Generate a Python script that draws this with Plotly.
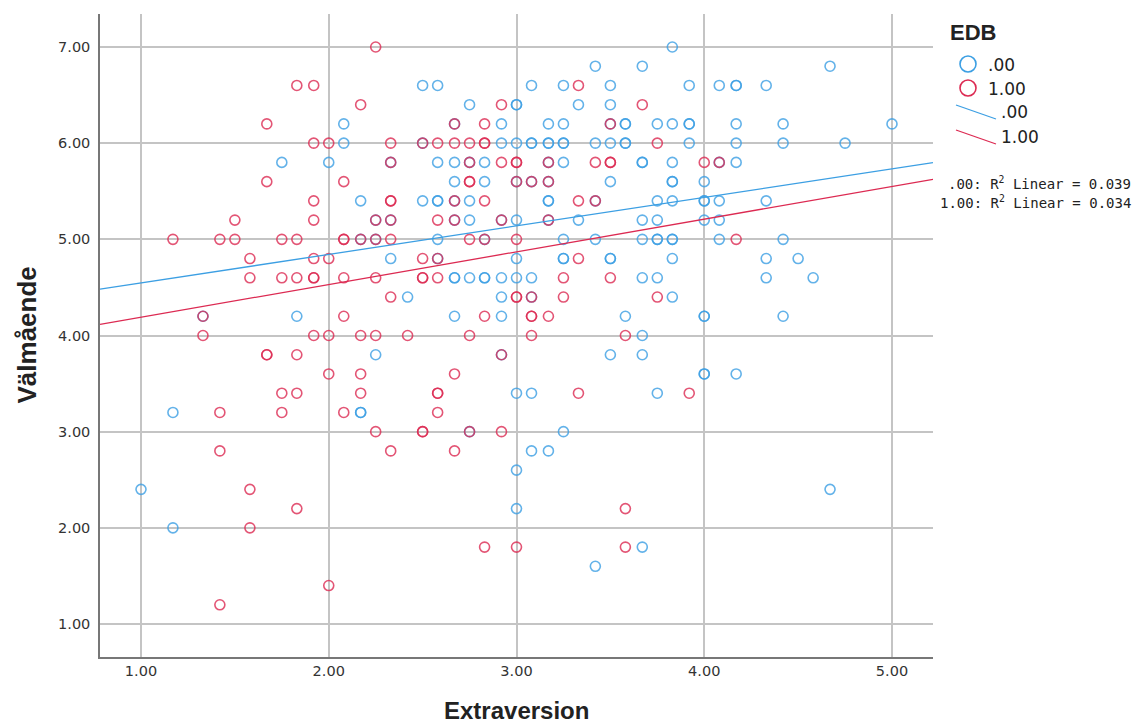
import plotly.graph_objects as go

# ---------------- data ----------------
# EDB = .00 (blue)
blue_x = [3.83,
          3.42, 3.67, 4.67,
          2.50, 2.58, 3.08, 3.25, 3.50, 3.92, 4.08, 4.17, 4.17, 4.33,
          2.75, 3.00, 3.00, 3.33, 3.50,
          2.08, 2.67, 2.92, 3.17, 3.25, 3.50, 3.58, 3.58, 3.75, 3.83, 3.92, 3.92, 4.17, 4.42, 5.00,
          2.08, 2.50, 2.92, 3.00, 3.08, 3.08, 3.17, 3.17, 3.25, 3.25, 3.42, 3.50, 3.58, 3.58, 3.92, 4.17, 4.42, 4.75,
          1.75, 2.00, 2.33, 2.58, 2.67, 2.75, 2.83, 3.17, 3.25, 3.67, 3.67, 3.83, 4.08, 4.17,
          2.67, 2.83, 3.00, 3.08, 3.17, 3.50, 3.83, 3.83, 4.00,
          2.17, 2.50, 2.58, 2.58, 2.67, 2.75, 3.17, 3.17, 3.42, 3.75, 3.83, 4.00, 4.00, 4.08, 4.33,
          2.25, 2.33, 2.67, 2.75, 2.92, 3.00, 3.17, 3.33, 3.67, 3.75, 4.00, 4.08,
          2.17, 2.25, 2.58, 2.83, 3.25, 3.42, 3.67, 3.75, 3.75, 3.83, 3.83, 4.08, 4.42,
          2.33, 2.58, 3.00, 3.25, 3.25, 3.50, 3.50, 3.83, 4.33, 4.50,
          2.67, 2.67, 2.75, 2.83, 2.83, 2.92, 3.00, 3.08, 3.67, 3.75, 4.33, 4.58,
          2.42, 2.92, 3.08, 3.83,
          1.33, 1.83, 2.67, 2.92, 3.58, 4.00, 4.00, 4.42,
          3.67,
          2.25, 2.92, 3.50, 3.67,
          4.00, 4.00, 4.17,
          3.00, 3.08, 3.75,
          1.17, 2.17, 2.17,
          2.75, 3.25,
          3.08, 3.17,
          3.00,
          1.00, 4.67,
          3.00,
          1.17,
          3.67,
          3.42]
blue_y = [7.0,
          6.8, 6.8, 6.8,
          6.6, 6.6, 6.6, 6.6, 6.6, 6.6, 6.6, 6.6, 6.6, 6.6,
          6.4, 6.4, 6.4, 6.4, 6.4,
          6.2, 6.2, 6.2, 6.2, 6.2, 6.2, 6.2, 6.2, 6.2, 6.2, 6.2, 6.2, 6.2, 6.2, 6.2,
          6.0, 6.0, 6.0, 6.0, 6.0, 6.0, 6.0, 6.0, 6.0, 6.0, 6.0, 6.0, 6.0, 6.0, 6.0, 6.0, 6.0, 6.0,
          5.8, 5.8, 5.8, 5.8, 5.8, 5.8, 5.8, 5.8, 5.8, 5.8, 5.8, 5.8, 5.8, 5.8,
          5.6, 5.6, 5.6, 5.6, 5.6, 5.6, 5.6, 5.6, 5.6,
          5.4, 5.4, 5.4, 5.4, 5.4, 5.4, 5.4, 5.4, 5.4, 5.4, 5.4, 5.4, 5.4, 5.4, 5.4,
          5.2, 5.2, 5.2, 5.2, 5.2, 5.2, 5.2, 5.2, 5.2, 5.2, 5.2, 5.2,
          5.0, 5.0, 5.0, 5.0, 5.0, 5.0, 5.0, 5.0, 5.0, 5.0, 5.0, 5.0, 5.0,
          4.8, 4.8, 4.8, 4.8, 4.8, 4.8, 4.8, 4.8, 4.8, 4.8,
          4.6, 4.6, 4.6, 4.6, 4.6, 4.6, 4.6, 4.6, 4.6, 4.6, 4.6, 4.6,
          4.4, 4.4, 4.4, 4.4,
          4.2, 4.2, 4.2, 4.2, 4.2, 4.2, 4.2, 4.2,
          4.0,
          3.8, 3.8, 3.8, 3.8,
          3.6, 3.6, 3.6,
          3.4, 3.4, 3.4,
          3.2, 3.2, 3.2,
          3.0, 3.0,
          2.8, 2.8,
          2.6,
          2.4, 2.4,
          2.2,
          2.0,
          1.8,
          1.6]

# EDB = 1.00 (red)
red_x = [2.25,
         1.83, 1.92, 3.33,
         2.17, 2.92, 3.67,
         1.67, 2.67, 2.83, 3.50,
         1.92, 2.00, 2.33, 2.50, 2.58, 2.67, 2.75, 2.83, 2.83, 3.75,
         2.33, 2.75, 2.92, 3.00, 3.00, 3.17, 3.42, 3.50, 3.50, 4.00, 4.08,
         1.67, 2.08, 2.75, 2.75, 3.00, 3.08, 3.17,
         1.92, 2.33, 2.33, 2.67, 2.83, 3.33, 3.42,
         1.50, 1.92, 2.25, 2.33, 2.58, 2.67, 2.92, 3.17,
         1.17, 1.42, 1.50, 1.75, 1.83, 2.08, 2.08, 2.17, 2.25, 2.33, 2.75, 2.83, 3.00, 4.17,
         1.58, 1.92, 2.00, 2.50, 2.58, 3.33,
         1.58, 1.75, 1.83, 1.92, 1.92, 2.08, 2.25, 2.50, 2.50, 2.58, 3.25, 3.50,
         2.33, 3.00, 3.00, 3.08, 3.25, 3.75,
         1.33, 2.08, 2.83, 3.08, 3.08, 3.17,
         1.33, 1.92, 2.00, 2.17, 2.25, 2.42, 2.75, 3.08, 3.58,
         1.67, 1.67, 1.83, 2.92,
         2.00, 2.17, 2.67,
         1.75, 1.83, 2.17, 2.58, 2.58, 3.33, 3.92,
         1.42, 1.75, 2.08, 2.58,
         2.25, 2.50, 2.50, 2.75, 2.92,
         1.42, 2.33, 2.67,
         1.58,
         1.83, 3.58,
         1.58,
         2.83, 3.00, 3.58,
         2.00,
         1.42]
red_y = [7.0,
         6.6, 6.6, 6.6,
         6.4, 6.4, 6.4,
         6.2, 6.2, 6.2, 6.2,
         6.0, 6.0, 6.0, 6.0, 6.0, 6.0, 6.0, 6.0, 6.0, 6.0,
         5.8, 5.8, 5.8, 5.8, 5.8, 5.8, 5.8, 5.8, 5.8, 5.8, 5.8,
         5.6, 5.6, 5.6, 5.6, 5.6, 5.6, 5.6,
         5.4, 5.4, 5.4, 5.4, 5.4, 5.4, 5.4,
         5.2, 5.2, 5.2, 5.2, 5.2, 5.2, 5.2, 5.2,
         5.0, 5.0, 5.0, 5.0, 5.0, 5.0, 5.0, 5.0, 5.0, 5.0, 5.0, 5.0, 5.0, 5.0,
         4.8, 4.8, 4.8, 4.8, 4.8, 4.8,
         4.6, 4.6, 4.6, 4.6, 4.6, 4.6, 4.6, 4.6, 4.6, 4.6, 4.6, 4.6,
         4.4, 4.4, 4.4, 4.4, 4.4, 4.4,
         4.2, 4.2, 4.2, 4.2, 4.2, 4.2,
         4.0, 4.0, 4.0, 4.0, 4.0, 4.0, 4.0, 4.0, 4.0,
         3.8, 3.8, 3.8, 3.8,
         3.6, 3.6, 3.6,
         3.4, 3.4, 3.4, 3.4, 3.4, 3.4, 3.4,
         3.2, 3.2, 3.2, 3.2,
         3.0, 3.0, 3.0, 3.0, 3.0,
         2.8, 2.8, 2.8,
         2.4,
         2.2, 2.2,
         2.0,
         1.8, 1.8, 1.8,
         1.4,
         1.2]

# fit lines (intercept, slope)
fit_blue = (4.25, 0.2965)
fit_red = (3.85, 0.340)
r2_labels = [".00: R<sup>2</sup> Linear = 0.039", "1.00: R<sup>2</sup> Linear = 0.034"]
group_names = [".00", "1.00"]
x_title = "Extraversion"
y_title = "Välmående"
legend_title = "EDB"

x_range = [0.7816, 5.2184]
y_range = [0.657, 7.343]
tick_x = [1, 2, 3, 4, 5]
tick_y = [1, 2, 3, 4, 5, 6, 7]

BLUE = "#3c9fe3"
RED = "#dc2a52"
FONT = "Liberation Sans, Arial, sans-serif"
WIDE = "DejaVu Sans, Verdana, sans-serif"
MONO = "DejaVu Sans Mono, monospace"

fig = go.Figure()

for xs, ys, col in [(blue_x, blue_y, BLUE), (red_x, red_y, RED)]:
    fig.add_trace(go.Scatter(
        x=xs, y=ys, mode="markers",
        marker=dict(symbol="circle-open", size=10, color=col,
                    line=dict(width=1.6, color=col), opacity=0.8),
        showlegend=False, hoverinfo="x+y"))

for (b0, b1), col in [(fit_blue, BLUE), (fit_red, RED)]:
    fig.add_trace(go.Scatter(
        x=x_range, y=[b0 + b1 * x_range[0], b0 + b1 * x_range[1]],
        mode="lines", line=dict(color=col, width=1.3),
        showlegend=False, hoverinfo="skip"))

W, H = 1137, 726
L, R, T, B = 100, 933, 14, 657   # plot area in pixels


def px(xp):
    return (xp - L) / (R - L)


def py(yp):
    return (B - yp) / (B - T)


shapes = []
annotations = []
# axis titles
annotations.append(dict(x=0.5, y=py(710), xref="paper", yref="paper", text=f"<b>{x_title}</b>",
                        showarrow=False, xanchor="center", yanchor="middle", borderpad=0,
                        font=dict(size=24, family=FONT, color="#222")))
annotations.append(dict(x=px(26), y=0.5, xref="paper", yref="paper", text=f"<b>{y_title}</b>",
                        showarrow=False, xanchor="center", yanchor="middle", textangle=-90,
                        borderpad=0, font=dict(size=26, family=FONT, color="#222")))
# custom legend
annotations.append(dict(x=px(948), y=py(32), xref="paper", yref="paper", text=f"<b>{legend_title}</b>",
                        showarrow=False, xanchor="left", yanchor="middle",
                        font=dict(size=22, family=FONT, color="#222")))
for i, (col, name) in enumerate([(BLUE, group_names[0]), (RED, group_names[1])]):
    cy = 64 + i * 24
    shapes.append(dict(type="circle", xref="paper", yref="paper",
                       x0=px(960), x1=px(976), y0=py(cy + 8), y1=py(cy - 8),
                       line=dict(color=col, width=1.6)))
    annotations.append(dict(x=px(986), y=py(cy + 1), xref="paper", yref="paper", text=name,
                            showarrow=False, xanchor="left", yanchor="middle",
                            font=dict(size=17, family=WIDE, color="#222")))
for i, (col, name) in enumerate([(BLUE, group_names[0]), (RED, group_names[1])]):
    cy = 112 + i * 25
    shapes.append(dict(type="line", xref="paper", yref="paper",
                       x0=px(956), x1=px(996), y0=py(cy - 7), y1=py(cy + 7),
                       line=dict(color=col, width=1.3)))
    annotations.append(dict(x=px(999), y=py(cy), xref="paper", yref="paper", text=name,
                            showarrow=False, xanchor="left", yanchor="middle",
                            font=dict(size=17, family=WIDE, color="#222")))
for i, t in enumerate(r2_labels):
    annotations.append(dict(x=px(1133), y=py(183 + i * 19), xref="paper", yref="paper", text=t,
                            showarrow=False, xanchor="right", yanchor="middle",
                            font=dict(size=14, family=MONO, color="#222")))

fig.update_layout(
    width=W, height=H, autosize=False,
    margin=dict(l=L, r=W - R, t=T, b=H - B, autoexpand=False),
    paper_bgcolor="white", plot_bgcolor="white",
    font=dict(family=FONT, color="#222"),
    shapes=shapes, annotations=annotations,
    xaxis=dict(range=x_range, tickvals=tick_x, ticktext=[f"{v:.2f}" for v in tick_x],
               showgrid=True, gridcolor="#c4c4c4", gridwidth=1.5, zeroline=False,
               showline=True, linecolor="#777", linewidth=1.5, automargin=False,
               ticks="", tickfont=dict(size=14.5, family=WIDE, color="#333")),
    yaxis=dict(range=y_range, tickvals=tick_y, ticktext=[f"{v:.2f}" for v in tick_y],
               showgrid=True, gridcolor="#c4c4c4", gridwidth=1.5, zeroline=False,
               showline=True, linecolor="#777", linewidth=1.5, automargin=False,
               ticks="outside", ticklen=5, tickcolor="rgba(0,0,0,0)",
               tickfont=dict(size=14.5, family=WIDE, color="#333")),
)

fig.write_html("out.html",
               config={"displayModeBar": False},
               post_script="document.body.style.margin='0';document.body.style.overflow='hidden';")
